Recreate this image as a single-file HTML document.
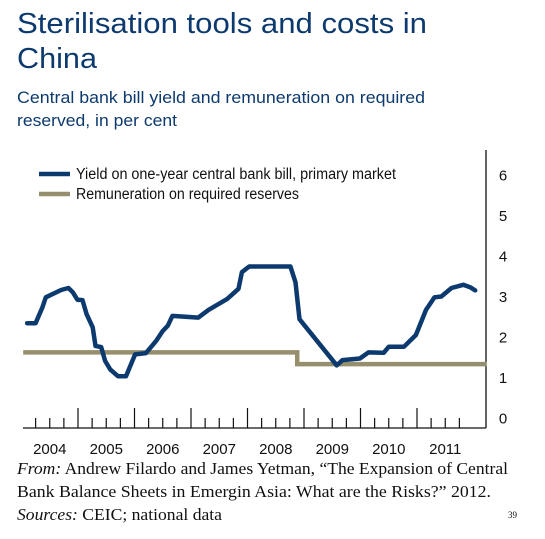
<!DOCTYPE html>
<html><head><meta charset="utf-8"><style>
html,body{margin:0;padding:0;background:#fff;}
svg{display:block;}
.t{font-family:"Liberation Sans",sans-serif;fill:#0d3a6e;}
.ax{font-family:"Liberation Sans Narrow","Liberation Sans",sans-serif;fill:#111;}
.ft{font-family:"Liberation Serif",serif;fill:#111;}
</style></head><body>
<svg id="chart" width="545" height="539" viewBox="0 0 545 539">
<text class="t" x="17" y="33" font-size="29" textLength="410" lengthAdjust="spacingAndGlyphs">Sterilisation tools and costs in</text>
<text class="t" x="17" y="68" font-size="29" textLength="80" lengthAdjust="spacingAndGlyphs">China</text>
<text class="t" x="17" y="103" font-size="17" textLength="408" lengthAdjust="spacingAndGlyphs">Central bank bill yield and remuneration on required</text>
<text class="t" x="17" y="126" font-size="17" textLength="160" lengthAdjust="spacingAndGlyphs">reserved, in per cent</text>
<g id="plot"></g>
<line x1="39" y1="174" x2="70" y2="174" stroke="#0d3a6e" stroke-width="4.5"/>
<text class="ax" x="76" y="179" font-size="15.5" textLength="320" lengthAdjust="spacingAndGlyphs">Yield on one-year central bank bill, primary market</text>
<line x1="39" y1="194" x2="70" y2="194" stroke="#958f6d" stroke-width="4.5"/>
<text class="ax" x="76" y="199" font-size="15.5" textLength="223" lengthAdjust="spacingAndGlyphs">Remuneration on required reserves</text>
<text class="ft" x="17" y="474" font-size="16.5" textLength="491" lengthAdjust="spacingAndGlyphs"><tspan font-style="italic">From:</tspan> Andrew Filardo and James Yetman, “The Expansion of Central</text>
<text class="ft" x="17" y="497" font-size="16.5" textLength="474" lengthAdjust="spacingAndGlyphs">Bank Balance Sheets in Emergin Asia: What are the Risks?” 2012.</text>
<text class="ft" x="17" y="520" font-size="16.5" textLength="205" lengthAdjust="spacingAndGlyphs"><tspan font-style="italic">Sources:</tspan> CEIC; national data</text>
<text class="ft" x="508" y="518" font-size="9">39</text>
</svg>
<script>
const years = [2004,2005,2006,2007,2008,2009,2010,2011];
const yTicks = [0,1,2,3,4,5,6];
const yieldT = [2004.10,2004.25,2004.37,2004.43,2004.70,2004.83,2004.91,2004.99,2005.08,2005.15,2005.26,2005.31,2005.41,2005.48,2005.57,2005.71,2005.85,2006.01,2006.20,2006.38,2006.50,2006.59,2006.67,2007.13,2007.31,2007.64,2007.84,2007.90,2008.03,2008.76,2008.85,2008.92,2009.58,2009.68,2009.99,2010.14,2010.41,2010.50,2010.77,2010.98,2011.16,2011.31,2011.43,2011.61,2011.82,2011.94,2012.03];
const yieldV = [2.34,2.34,2.73,2.98,3.16,3.21,3.10,2.92,2.91,2.57,2.24,1.78,1.75,1.41,1.20,1.03,1.03,1.57,1.60,1.90,2.15,2.28,2.52,2.48,2.67,2.94,3.19,3.60,3.74,3.74,3.35,2.44,1.30,1.43,1.47,1.62,1.61,1.76,1.76,2.05,2.67,2.98,3.00,3.21,3.29,3.23,3.15];
const remT = [2004.03,2008.88,2008.88,2012.23];
const remV = [1.62,1.62,1.33,1.33];

const NS='http://www.w3.org/2000/svg';
const g=document.getElementById('plot');
const xS=t=>21.5+(t-2004)*56.5;
const yS=v=>418-40.5*v;
function mk(tag,at){const e=document.createElementNS(NS,tag);for(const k in at)e.setAttribute(k,at[k]);g.appendChild(e);return e;}
// axes
let a=mk('line',{x1:23,y1:428,x2:486,y2:428,stroke:'#111','stroke-width':1.3});


a=mk('line',{x1:486,y1:150,x2:486,y2:428,stroke:'#111','stroke-width':1.3});


for(let q=1;q<32;q++){
  const t=2004+q/4;
  const l=mk('line',{x1:xS(t),y1:428,x2:xS(t),y2:q%4===0?408:418,stroke:'#111','stroke-width':1.2});
  
  
}
years.forEach(y=>{
  const e=mk('text',{x:xS(y+0.5),y:454,'text-anchor':'middle','font-size':15,class:'ax'});
  e.textContent=y;
  
  
});
yTicks.forEach(v=>{
  const e=mk('text',{x:503,y:yS(v)+5.5,'text-anchor':'middle','font-size':15,class:'ax'});
  e.textContent=v;
  
  
});
function path(T,V){return T.map((t,i)=>(i?'L':'M')+xS(t).toFixed(1)+','+yS(V[i]).toFixed(1)).join(' ');}
let p=mk('path',{d:path(remT,remV),fill:'none',stroke:'#958f6d','stroke-width':4.5});


p=mk('path',{d:path(yieldT,yieldV),fill:'none',stroke:'#0d3a6e','stroke-width':4.5,'stroke-linejoin':'round','stroke-linecap':'round'});


</script>
</body></html>
